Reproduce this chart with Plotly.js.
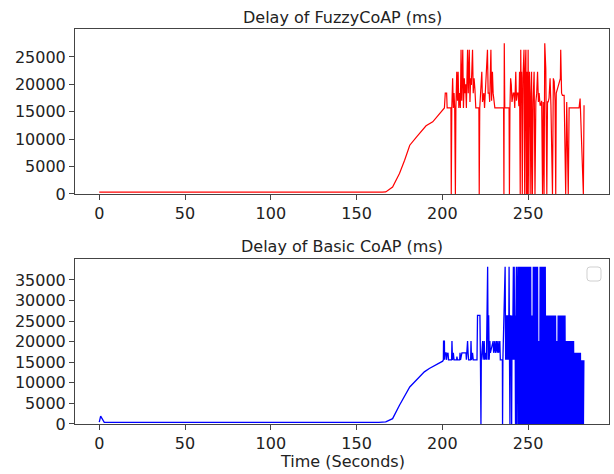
<!DOCTYPE html>
<html>
<head>
<meta charset="utf-8">
<script src="https://cdn.plot.ly/plotly-3.0.1.min.js"></script>
<style>html,body{margin:0;padding:0;background:#fff;}#chart{width:614px;height:474px;}</style>
</head>
<body>
<div id="chart"></div>
<script>
// ---- Data ----
const fuzzyTitle = 'Delay of FuzzyCoAP (ms)';
const basicTitle = 'Delay of Basic CoAP (ms)';
const xAxisTitle = 'Time (Seconds)';

const xTicks = [0, 50, 100, 150, 200, 250];
const fuzzyYTicks = [0, 5000, 10000, 15000, 20000, 25000];
const basicYTicks = [0, 5000, 10000, 15000, 20000, 25000, 30000, 35000];

const fuzzyTime = [0, 165, 167, 171, 175, 178, 181, 185, 190.5, 194.4, 201.2,
  201.7, 202.5, 202.8, 205.0, 205.2, 205.5, 206.0, 206.4, 206.8, 207.2, 207.6, 207.9,
  208.4, 208.8, 209.2, 209.6, 210.0, 210.5, 210.9, 211.3, 211.9, 212.3,
  212.8, 213.2, 213.6, 214.0, 214.7, 215.1, 215.7, 216.1,
  216.5, 216.9, 217.6, 218.0, 218.5, 219.0, 219.5, 221.3, 221.5, 221.8,
  223.0, 223.4, 224.2, 224.6, 226.3, 226.7, 227.3, 227.6, 228.3, 228.7, 229.2, 229.6, 230.2, 230.6,
  235.7, 235.9, 236.1, 236.4, 238.9, 239.1, 239.4, 239.8, 240.2, 240.6, 241.3, 241.8, 242.2,
  242.8, 243.2, 243.6, 244.2, 244.6, 245.0, 245.4, 245.7, 246.0, 246.2, 246.6, 247.0, 247.6,
  248.0, 248.3, 248.7, 249.0, 249.3, 249.6, 250.0, 250.4, 250.8, 251.2, 251.6, 252.0, 252.5,
  252.9, 253.5, 254.0, 254.5, 255.0, 255.5, 256.0, 256.4, 257.0, 257.4, 257.9, 258.4, 258.8,
  259.3, 259.7, 260.3, 260.9, 261.3, 261.7, 262.2, 262.8, 263.3, 264.2, 264.7, 265.2, 265.7,
  266.1, 266.4, 268.8, 269.0, 269.5, 270.0, 271.0, 271.9, 272.5, 273.4, 273.9, 279.7, 280.3, 282.2, 282.6];
const fuzzyDelay = [350, 350, 370, 1280, 3730, 6160, 8900, 10430, 12440, 13170, 15700,
  18400, 18400, 15700, 15700, 0, 15700, 21100, 15700, 18400, 15700, 0, 15700,
  22300, 17000, 22300, 15700, 18400, 15700, 26300, 17000, 26300, 15700,
  21100, 18400, 20000, 15700, 26300, 18400, 26300, 16800,
  21100, 19900, 26300, 18400, 21100, 19000, 15700, 15700, 0, 15700,
  22300, 16800, 18400, 15700, 26300, 18400, 18400, 16800, 26300, 17000, 22300, 18400, 16800, 15700,
  15700, 0, 27500, 15700, 15700, 0, 15700, 21100, 19900, 16800, 18400, 18400, 15700,
  22300, 17000, 18400, 18400, 16000, 22300, 0, 26300, 17000, 22300, 0, 21100, 26300,
  0, 22300, 26300, 0, 22300, 0, 26300, 0, 22300, 18400, 0, 22300, 0,
  16800, 22300, 0, 16800, 18400, 22300, 16800, 18400, 16200, 16200, 17000, 0, 16800,
  0, 27500, 22900, 0, 16800, 16800, 17500, 21100, 16200, 0, 21100, 20500, 17000,
  0, 18400, 21100, 26300, 18400, 18000, 18000, 0, 16800, 0, 15700, 15700, 17400, 0, 16200];

// Basic CoAP: start, ramp and sparse spikes
const basicTime = [0, 0.8, 2.9, 163, 167, 171, 175, 181, 189.5, 192.4, 200.2,
  200.6, 200.7, 201.2, 201.3, 201.6, 202.2, 202.4, 202.8, 203.3, 203.6, 205.4, 205.6, 205.9,
  206.4, 206.8, 208.3, 208.5, 208.8, 210.1, 210.3, 210.6, 211.4, 212.2, 213.8, 214.0,
  214.7, 215.0, 215.3, 216.5, 216.7, 217.0, 217.6, 218.0, 220.2, 220.5, 221.9, 222.2,
  222.5, 222.7, 223.5, 223.8, 224.4, 224.7, 225.4, 225.7, 226.4, 226.7, 227.0, 227.3,
  227.7, 228.0, 229.6, 229.9, 230.6, 230.9, 231.6, 231.9, 232.5, 232.8, 233.5, 233.8,
  235.0, 235.1, 235.3, 236.6, 236.9, 237.2, 237.5, 237.8, 238.1, 238.4, 238.65, 238.9,
  239.15, 239.4, 239.65, 239.9, 240.15, 240.4, 240.65, 240.9, 241.15, 241.4, 241.65, 241.9,
  242.15, 242.4, 242.65, 242.9, 243.15, 243.4, 243.65];
const basicDelay = [450, 1900, 400, 400, 500, 1300, 4550, 9000, 12670, 13500, 15270,
  15600, 20150, 20150, 15600, 17300, 17300, 15600, 17000, 17300, 15600, 15600, 20150, 15600,
  17300, 15600, 15600, 16400, 15600, 15600, 17300, 15600, 17300, 17300, 17300, 15600,
  20150, 17300, 15600, 15600, 20150, 15600, 17300, 15600, 15600, 26400, 26400, 15600,
  0, 15600, 20150, 15600, 20150, 15600, 17300, 15600, 38200, 15600, 26400, 15600,
  20150, 17300, 20150, 17300, 20150, 17300, 20150, 17300, 20150, 17300, 20150, 15600,
  15600, 0, 15600, 38200, 15600, 26400, 15600, 26400, 15600, 26400, 15600, 38200,
  15600, 0, 26400, 15600, 26400, 0, 26400, 15600, 26400, 38200, 15600, 38200,
  15600, 26400, 0, 26400, 38200, 0, 26400];

// Basic CoAP: dense burst section (samples alternate between a peak and 0)
const basicBurstTime = [
  244, 244.25, 244.5, 244.75, 245, 245.25, 245.5, 245.75, 246, 246.25, 246.5, 246.75,
  247, 247.25, 247.5, 247.75, 248, 248.25, 248.5, 248.75, 249, 249.25, 249.5, 249.75,
  250, 250.25, 250.5, 250.75, 251, 251.25, 251.5, 251.75, 252, 252.25, 252.5, 252.75,
  253, 253.25, 253.5, 253.75, 254, 254.25, 254.5, 254.75, 255, 255.25, 255.5, 255.75,
  256, 256.25, 256.5, 256.75, 257, 257.25, 257.5, 257.75, 258, 258.25, 258.5, 258.75,
  259, 259.25, 259.5, 259.75, 260, 260.25, 260.5, 260.75, 261, 261.25, 261.5, 261.75,
  262, 262.25, 262.5, 262.75, 263, 263.25, 263.5, 263.75, 264, 264.25, 264.5, 264.75,
  265, 265.25, 265.5, 265.75, 266, 266.25, 266.5, 266.75, 267, 267.25, 267.5, 267.75,
  268, 268.25, 268.5, 268.75, 269, 269.25, 269.5, 269.75, 270, 270.25, 270.5, 270.75,
  271, 271.25, 271.5, 271.75, 272, 272.25, 272.5, 272.75, 273, 273.25, 273.5, 273.75,
  274, 274.25, 274.5, 274.75, 275, 275.25, 275.5, 275.75, 276, 276.25, 276.5, 276.75,
  277, 277.25, 277.5, 277.75, 278, 278.25, 278.5, 278.75, 279, 279.25, 279.5, 279.75,
  280, 280.25, 280.5, 280.75, 281, 281.25, 281.5, 281.75, 282, 282.25, 282.5];
const basicBurstDelay = [
  38200, 0, 38200, 0, 38200, 0, 38200, 0, 38200, 0, 38200, 0,
  38200, 0, 38200, 0, 38200, 0, 38200, 0, 38200, 0, 38200, 0,
  38200, 0, 38200, 0, 38200, 0, 38200, 0, 26400, 0, 26400, 0,
  38200, 0, 38200, 0, 38200, 0, 38200, 0, 38200, 0, 38200, 0,
  20150, 0, 20150, 0, 38200, 0, 38200, 0, 38200, 0, 38200, 0,
  38200, 0, 38200, 0, 38200, 0, 26400, 0, 26400, 0, 26400, 0,
  26400, 0, 26400, 0, 26400, 0, 26400, 0, 26400, 0, 26400, 0,
  26400, 0, 26400, 0, 26400, 0, 20150, 0, 20150, 0, 26400, 0,
  26400, 0, 26400, 0, 26400, 0, 26400, 0, 26400, 0, 26400, 0,
  26400, 0, 26400, 0, 20150, 0, 20150, 0, 20150, 0, 20150, 0,
  20150, 0, 20150, 0, 20150, 0, 20150, 0, 20150, 0, 20150, 0,
  17300, 0, 17300, 0, 17300, 0, 17300, 0, 17300, 0, 17300, 0,
  17300, 0, 17300, 0, 15500, 0, 15500, 0, 15500, 0, 15500];

// ---- Chart ----
const axisColor = '#444';
const tickFont = {family: 'DejaVu Sans', size: 16, color: '#222'};

function xAxis(anchor) {
  return {
    anchor: anchor, domain: [0, 1], range: [-14.15, 297.15],
    tickmode: 'array', tickvals: xTicks, ticktext: xTicks.map(String),
    ticks: 'outside', ticklen: 5, tickwidth: 1, tickcolor: axisColor,
    showline: true, mirror: true, linecolor: axisColor, linewidth: 1,
    showgrid: false, zeroline: false, tickfont: tickFont
  };
}
function yAxis(anchor, domain, top, ticks) {
  return {
    anchor: anchor, domain: domain, range: [0, top],
    tickmode: 'array', tickvals: ticks, ticktext: ticks.map(String),
    ticks: 'outside', ticklen: 5, tickwidth: 1, tickcolor: axisColor,
    showline: true, mirror: true, linecolor: axisColor, linewidth: 1,
    showgrid: false, zeroline: false, tickfont: tickFont
  };
}

const traces = [
  {x: fuzzyTime, y: fuzzyDelay, xaxis: 'x', yaxis: 'y', type: 'scatter', mode: 'lines',
   line: {color: '#ff0000', width: 1.2, simplify: false}, hoverinfo: 'skip'},
  {x: basicTime.concat(basicBurstTime), y: basicDelay.concat(basicBurstDelay), xaxis: 'x2', yaxis: 'y2',
   type: 'scatter', mode: 'lines',
   line: {color: '#0000ff', width: 1.3, simplify: false}, hoverinfo: 'skip'}
];

// paper y for pixel row p: (424 - p) / 395 ; paper x for pixel col p: (p - 75) / 534
const layout = {
  width: 614, height: 474,
  margin: {l: 75, r: 5, t: 29, b: 50, pad: 0},
  paper_bgcolor: '#ffffff', plot_bgcolor: '#ffffff',
  showlegend: false,
  font: {family: 'DejaVu Sans', size: 16, color: '#222'},
  xaxis: xAxis('y'),
  yaxis: yAxis('x', [0.5823, 1], 30100, fuzzyYTicks),
  xaxis2: xAxis('y2'),
  yaxis2: yAxis('x2', [0, 0.4177], 40100, basicYTicks),
  annotations: [
    {text: fuzzyTitle, xref: 'paper', yref: 'paper', x: 0.5, y: 1.0291, xanchor: 'center', yanchor: 'middle', showarrow: false, font: {family: 'DejaVu Sans', size: 16, color: '#222'}},
    {text: basicTitle, xref: 'paper', yref: 'paper', x: 0.5, y: 0.4494, xanchor: 'center', yanchor: 'middle', showarrow: false, font: {family: 'DejaVu Sans', size: 16, color: '#222'}},
    {text: xAxisTitle, xref: 'paper', yref: 'paper', x: 0.5, y: -0.0962, xanchor: 'center', yanchor: 'middle', showarrow: false, font: {family: 'DejaVu Sans', size: 16, color: '#222'}}
  ],
  shapes: [
    {type: 'path', xref: 'paper', yref: 'paper', layer: 'above',
     path: 'M 0.9644 0.3975 L 0.9794 0.3975 Q 0.9850 0.3975 0.9850 0.3899 L 0.9850 0.3696 Q 0.9850 0.3620 0.9794 0.3620 L 0.9644 0.3620 Q 0.9588 0.3620 0.9588 0.3696 L 0.9588 0.3899 Q 0.9588 0.3975 0.9644 0.3975 Z',
     line: {color: '#d0d0d0', width: 1}, fillcolor: '#ffffff'}
  ]
};

Plotly.newPlot('chart', traces, layout, {staticPlot: true, displayModeBar: false});
</script>
</body>
</html>
